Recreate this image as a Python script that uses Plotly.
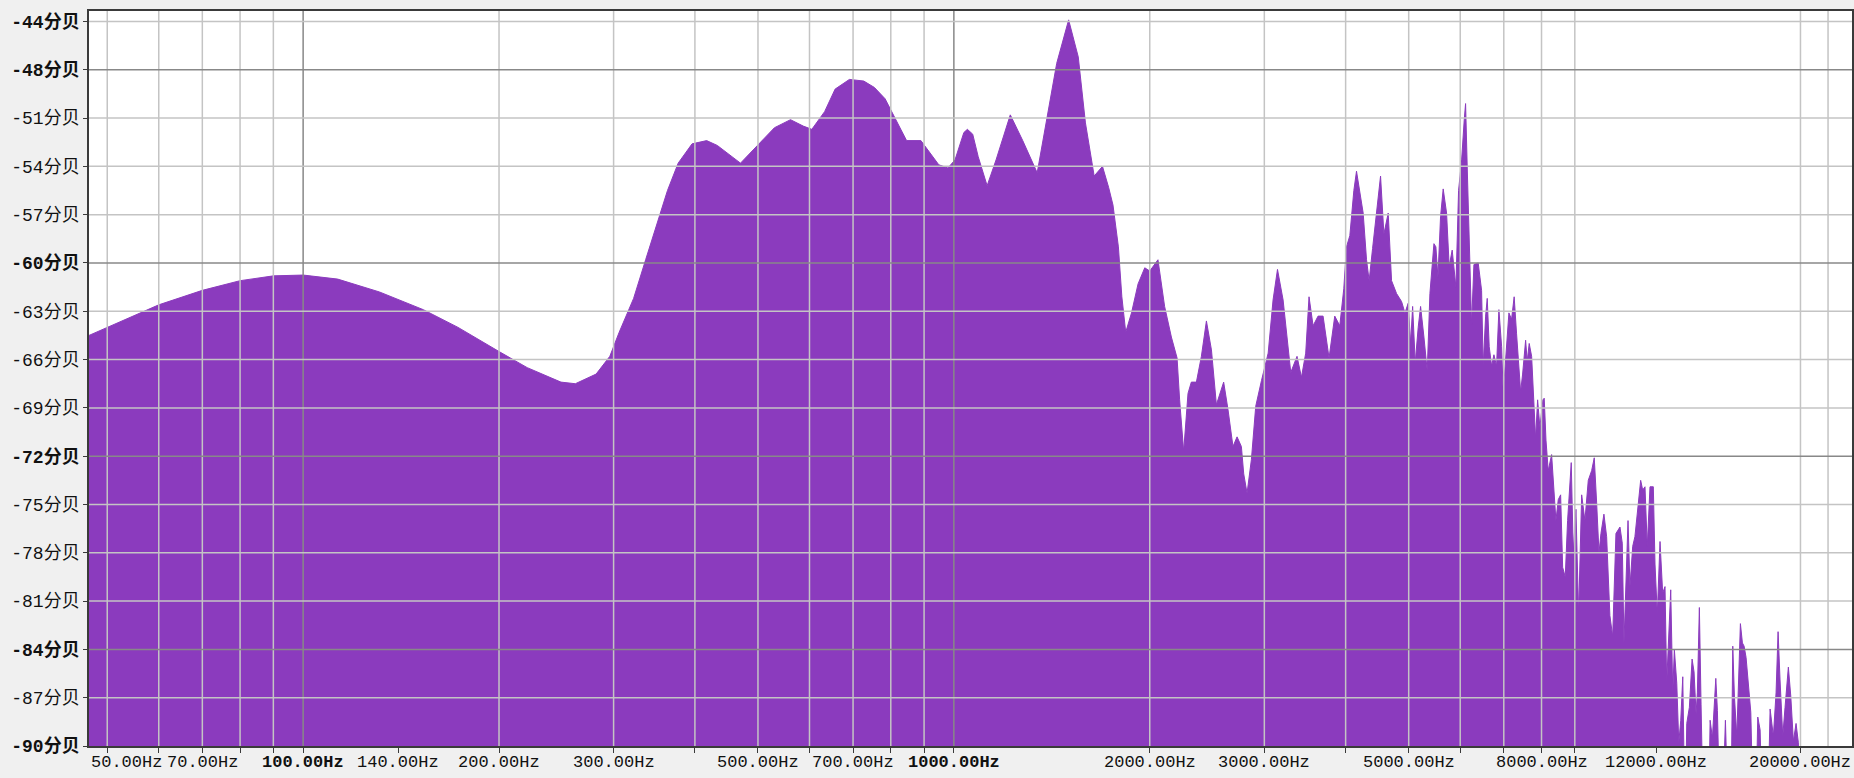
import math
import plotly.graph_objects as go

# ---------------- data ----------------
freq_hz = [
    46.875, 50, 60, 70, 80, 90, 100, 113, 131, 153, 173, 200, 221, 249, 262, 282, 296, 306,
    322, 336, 354, 363, 377, 396, 417, 433, 470, 504, 530, 561, 587, 605, 633, 657, 691, 727,
    755, 784, 805, 846, 890, 948, 979, 1004, 1036, 1049, 1069, 1090, 1125, 1161, 1221, 1276,
    1343, 1394, 1439, 1501, 1553, 1593, 1643, 1692, 1729, 1756, 1790, 1812, 1837, 1875, 1919, 1965,
    2000, 2059, 2108, 2159, 2203, 2223, 2255, 2290, 2317, 2359, 2401, 2444, 2488, 2532, 2598, 2638,
    2685, 2724, 2766, 2789, 2822, 2866, 2910, 2970, 3041, 3094, 3143, 3206, 3263, 3294, 3368, 3421,
    3473, 3514, 3565, 3628, 3693, 3772, 3849, 3918, 3974, 4012, 4060, 4118, 4157, 4206, 4256, 4307,
    4347, 4400, 4462, 4526, 4580, 4650, 4706, 4790, 4876, 4934, 4991, 5034, 5070, 5117, 5171, 5215,
    5277, 5339, 5390, 5428, 5467, 5505, 5545, 5597, 5649, 5717, 5770, 5832, 5909, 5965, 6030, 6086,
    6115, 6150, 6193, 6246, 6298, 6394, 6471, 6508, 6564, 6602, 6648, 6705, 6760, 6823, 6880, 6947,
    6986, 7053, 7128, 7195, 7262, 7324, 7385, 7430, 7482, 7562, 7605, 7659, 7725, 7787, 7834, 7890,
    7954, 8039, 8077, 8127, 8192, 8291, 8358, 8418, 8488, 8560, 8621, 8701, 8773, 8845, 8887, 8951,
    9036, 9122, 9221, 9328, 9439, 9552, 9641, 9723, 9804, 9872, 9977, 10073, 10190, 10290, 10410, 10560,
    10646, 10710, 10787, 10865, 10940, 11046, 11133, 11266, 11362, 11443, 11537, 11630, 11743, 11882, 11953, 12050,
    12167, 12282, 12384, 12458, 12573, 12637, 12728, 12800, 12910, 13002, 13093, 13187, 13294, 13374, 13498, 13629,
    13724, 13822, 13886, 13985, 14069, 14186, 14440, 14527, 14645, 14822, 14907, 15050, 15158, 15335, 15500, 15632,
    15740, 15831, 15966, 16055, 16170, 16286, 16384, 16498, 16635, 16777, 16933, 17061, 17195, 17338, 17503, 17801,
    17962, 18170, 18345, 18476, 18605, 18785, 18937, 19161, 19325, 19504, 19690, 19853, 20023, 24000,
]
level_db = [
    -64.5, -64.0, -62.6, -61.7, -61.1, -60.8, -60.75, -61.0, -61.8, -62.9, -64.0, -65.5, -66.5, -67.4, -67.5, -66.9, -65.8, -64.3,
    -62.2, -59.8, -56.9, -55.5, -53.8, -52.6, -52.4, -52.7, -53.8, -52.5, -51.6, -51.1, -51.5, -51.7, -50.6, -49.2, -48.6, -48.7,
    -49.1, -49.8, -50.7, -52.4, -52.4, -53.9, -54.1, -53.6, -51.9, -51.7, -52.0, -53.4, -55.2, -53.6, -50.8, -52.4,
    -54.4, -50.7, -47.6, -44.9, -47.2, -51.3, -54.6, -54.0, -55.3, -56.4, -59.0, -62.1, -64.3, -63.1, -61.3, -60.3,
    -60.5, -59.8, -62.7, -64.6, -65.9, -68.5, -71.7, -68.1, -67.4, -67.4, -65.8, -63.6, -65.4, -68.8, -67.4, -69.1,
    -71.4, -70.8, -71.4, -73.1, -74.3, -72.2, -68.9, -67.3, -65.6, -62.3, -60.4, -62.3, -65.2, -66.8, -65.8, -67.1,
    -65.6, -62.1, -63.9, -63.3, -63.3, -65.9, -63.3, -63.9, -61.6, -59.0, -58.3, -55.5, -54.3, -55.6, -56.9, -59.8,
    -61.1, -59.1, -56.9, -54.6, -58.2, -56.9, -61.1, -61.9, -62.4, -63.1, -62.5, -65.0, -62.7, -66.2, -64.0, -62.7,
    -64.6, -66.7, -61.9, -60.2, -58.8, -59.0, -60.9, -57.1, -55.4, -56.9, -60.2, -59.2, -61.5, -55.5, -53.6, -51.1,
    -50.1, -54.0, -58.6, -63.8, -60.1, -60.0, -61.7, -66.4, -63.3, -62.2, -65.2, -66.4, -65.7, -66.4, -62.9, -65.2,
    -68.1, -65.6, -63.1, -63.5, -62.1, -64.4, -66.2, -68.0, -66.9, -64.8, -66.1, -65.0, -65.8, -69.3, -70.9, -68.5,
    -70.2, -68.5, -68.4, -71.0, -72.9, -71.9, -74.3, -76.0, -74.7, -74.4, -78.9, -79.5, -76.0, -73.9, -72.4, -78.0,
    -75.3, -81.8, -74.4, -76.0, -73.5, -72.9, -72.1, -74.9, -78.0, -76.8, -75.6, -77.0, -81.9, -83.2, -76.8, -76.4,
    -77.4, -83.6, -79.7, -76.0, -80.1, -77.6, -77.0, -75.1, -73.5, -74.1, -73.9, -77.6, -73.9, -73.9, -78.7, -81.8,
    -77.3, -80.5, -80.1, -86.1, -82.8, -80.3, -86.7, -84.0, -86.1, -89.8, -88.4, -85.7, -95.0, -88.6, -87.6, -84.6,
    -85.4, -88.0, -86.7, -81.4, -87.4, -95.0, -95.0, -88.4, -89.5, -85.8, -87.8, -95.0, -95.0, -88.4, -95.0, -95.0,
    -83.8, -86.9, -89.4, -86.7, -82.4, -83.6, -83.8, -84.5, -86.3, -87.9, -95.0, -95.0, -88.2, -89.0, -95.0, -95.0,
    -87.7, -89.4, -86.7, -82.9, -85.9, -89.4, -87.6, -85.1, -86.9, -89.7, -88.6, -89.8, -95.0, -95.0,
]
assert len(freq_hz) == len(level_db), (len(freq_hz), len(level_db))

# axis extents
f_min, f_max = 46.875, 24000
db_min, db_max = -90, -44.35
db_floor = -100

# y ticks
y_tick_vals = [-45, -48, -51, -54, -57, -60, -63, -66, -69, -72, -75, -78, -81, -84, -87, -90]
y_tick_text = ["-44分贝", "-48分贝", "-51分贝", "-54分贝", "-57分贝", "-60分贝", "-63分贝", "-66分贝",
               "-69分贝", "-72分贝", "-75分贝", "-78分贝", "-81分贝", "-84分贝", "-87分贝", "-90分贝"]
y_bold = ["-44分贝", "-48分贝", "-60分贝", "-72分贝", "-84分贝", "-90分贝"]

# x ticks
x_tick_vals = [50, 60, 70, 80, 90, 100, 140, 200, 300, 400, 500, 600, 700, 800, 900, 1000,
               2000, 3000, 4000, 5000, 6000, 7000, 8000, 9000, 12000, 20000]
x_label_vals = [50, 70, 100, 140, 200, 300, 500, 700, 1000, 2000, 3000, 5000, 8000, 12000, 20000]
x_label_text = ["50.00Hz", "70.00Hz", "100.00Hz", "140.00Hz", "200.00Hz", "300.00Hz", "500.00Hz",
                "700.00Hz", "1000.00Hz", "2000.00Hz", "3000.00Hz", "5000.00Hz", "8000.00Hz",
                "12000.00Hz", "20000.00Hz"]
x_bold = ["100.00Hz", "1000.00Hz"]

# grid
grid_x_light = [50, 60, 70, 80, 90, 200, 300, 400, 500, 600, 700, 800, 900,
                2000, 3000, 4000, 5000, 6000, 7000, 8000, 9000, 20000, 22050]
grid_x_dark = [100, 1000]
grid_y_light = [-45, -51, -54, -57, -63, -66, -69, -75, -78, -81, -87]
grid_y_dark = [-48, -60, -72, -84]

# ---------------- styling ----------------
FILL = "rgb(139,59,190)"
LIGHT = "#c4c4c4"
DARK = "#888888"
FRAME = "#3a3a3a"
FONT = "Liberation Mono, Noto Sans CJK SC, monospace"
XSIZE = 17
YSIZE = 18

fig = go.Figure()
fig.add_trace(go.Scatter(x=freq_hz, y=[db_floor] * len(freq_hz), mode="lines",
                         line=dict(width=0, color=FILL), hoverinfo="skip", showlegend=False))
fig.add_trace(go.Scatter(x=freq_hz, y=level_db, mode="lines", fill="tonexty",
                         fillcolor=FILL, line=dict(width=1, color=FILL), showlegend=False))

shapes = []
for v in grid_x_light:
    shapes.append(dict(type="line", xref="x", yref="paper", x0=v, x1=v, y0=0, y1=1,
                       line=dict(color=LIGHT, width=1.5), layer="above"))
for v in grid_x_dark:
    shapes.append(dict(type="line", xref="x", yref="paper", x0=v, x1=v, y0=0, y1=1,
                       line=dict(color=DARK, width=1.5), layer="above"))
for v in grid_y_light:
    shapes.append(dict(type="line", xref="paper", yref="y", x0=0, x1=1, y0=v, y1=v,
                       line=dict(color=LIGHT, width=1.5), layer="above"))
for v in grid_y_dark:
    shapes.append(dict(type="line", xref="paper", yref="y", x0=0, x1=1, y0=v, y1=v,
                       line=dict(color=DARK, width=1.5), layer="above"))

annotations = []
for v, t in zip(x_label_vals, x_label_text):
    txt = f"<b>{t}</b>" if t in x_bold else t
    if v == x_label_vals[0]:
        annotations.append(dict(x=0, xref="paper", xanchor="left", y=0, yref="paper",
                                yanchor="top", yshift=-5, text=txt, showarrow=False,
                                font=dict(family=FONT, size=XSIZE, color="#111")))
    else:
        annotations.append(dict(x=math.log10(v), xref="x", xanchor="center", y=0, yref="paper",
                                yanchor="top", yshift=-5, text=txt, showarrow=False,
                                font=dict(family=FONT, size=XSIZE, color="#111")))

fig.update_layout(
    width=1854, height=778,
    margin=dict(l=89, r=2, t=11, b=32, autoexpand=False),
    paper_bgcolor="#f0f0f0",
    plot_bgcolor="white",
    shapes=shapes,
    annotations=annotations,
    xaxis=dict(type="log", range=[math.log10(f_min), math.log10(f_max)],
               showgrid=False, zeroline=False, showline=True, mirror=True,
               linecolor=FRAME, linewidth=1.5, ticks="outside", ticklen=5,
               tickcolor=FRAME, tickwidth=1.2, tickvals=x_tick_vals,
               showticklabels=False),
    yaxis=dict(range=[db_min, db_max], showgrid=False, zeroline=False, showline=True,
               mirror=True, linecolor=FRAME, linewidth=1.5, ticks="outside", ticklen=4,
               tickcolor=FRAME, tickwidth=1.2, tickvals=y_tick_vals,
               ticktext=[f"<b>{t}</b>" if t in y_bold else t for t in y_tick_text],
               tickfont=dict(family=FONT, size=YSIZE, color="#111")),
)

fig.write_html("out.html", config={"displayModeBar": False},
               post_script="document.body.style.margin='0';document.body.style.overflow='hidden';")
